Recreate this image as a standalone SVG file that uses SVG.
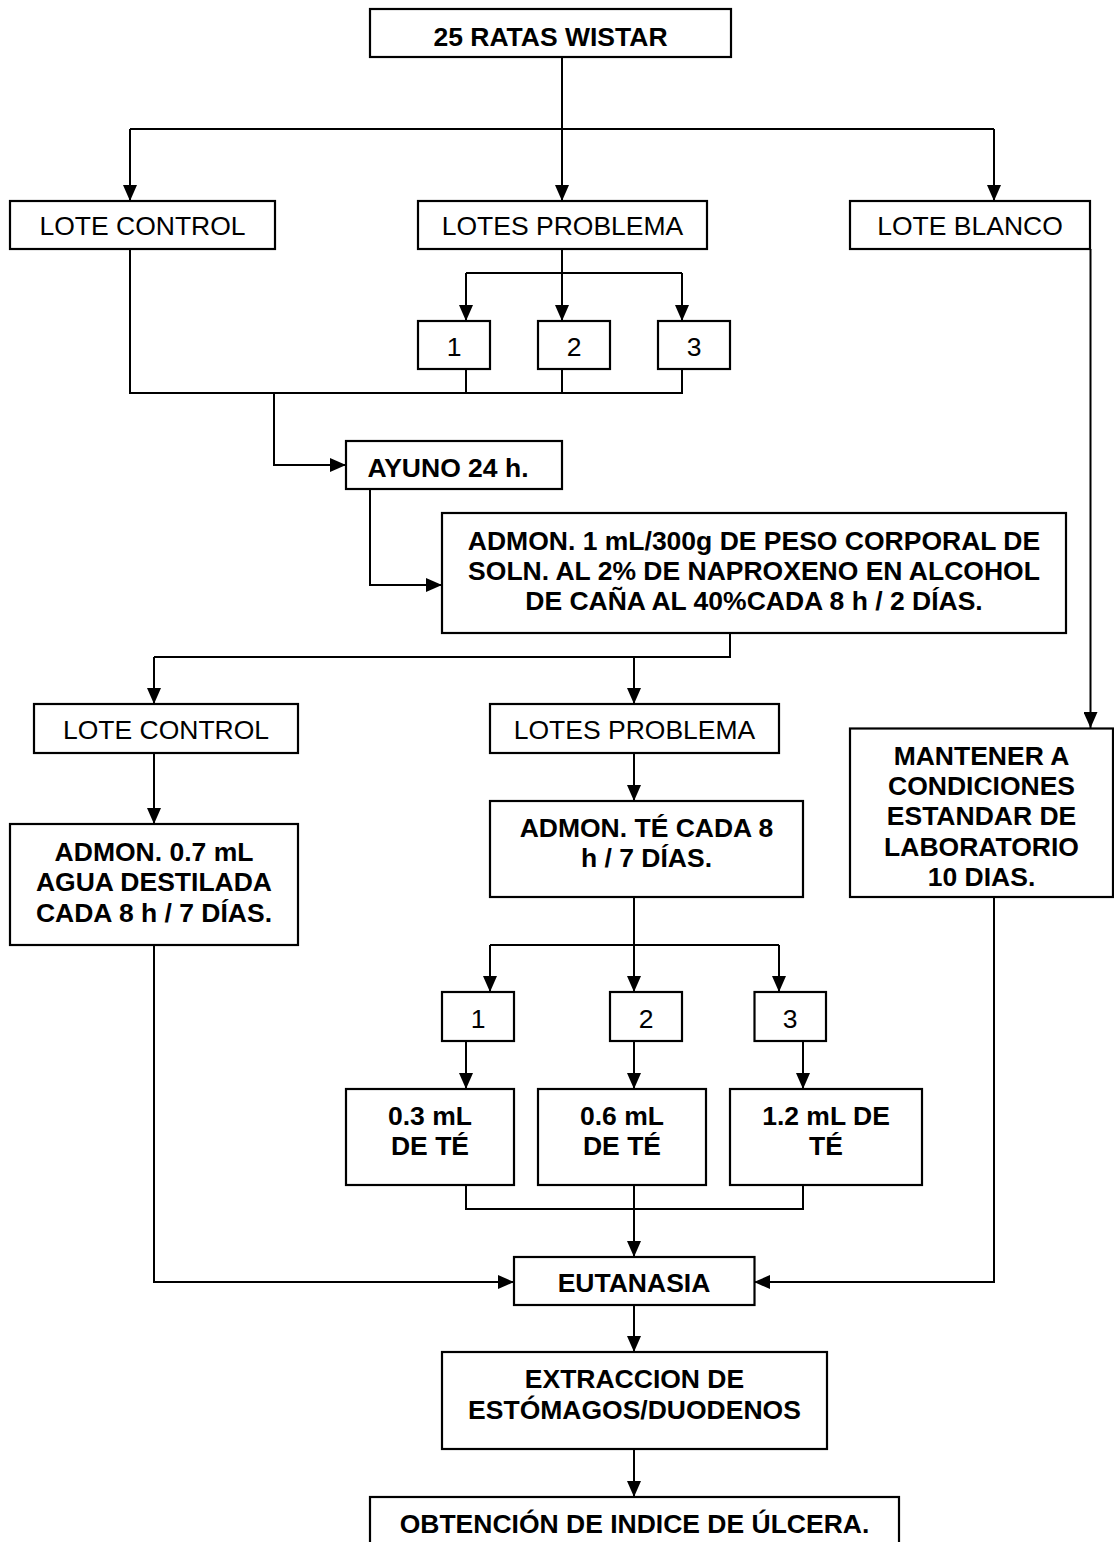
<svg xmlns="http://www.w3.org/2000/svg" width="1114" height="1542" viewBox="0 0 1114 1542">
<style>
.box{fill:#fff;stroke:#000;stroke-width:2.2}
.c{fill:none;stroke:#000;stroke-width:2}
.a{marker-end:url(#ah)}
text{font-family:"Liberation Sans",Arial,sans-serif;font-size:26.5px;fill:#000;text-anchor:middle}
.b{font-weight:bold}
</style>
<defs>
<marker id="ah" markerUnits="userSpaceOnUse" markerWidth="16" markerHeight="14" refX="16" refY="7" orient="auto">
<path d="M0,0 L16,7 L0,14 z" fill="#000"/>
</marker>
</defs>
<rect width="1114" height="1542" fill="#fff"/>
<g id="connectors">
<path class="c a" d="M562,57 V201"/>
<path class="c" d="M130,129 H994"/>
<path class="c a" d="M130,129 V201"/>
<path class="c a" d="M994,129 V201"/>
<path class="c a" d="M562,249 V321"/>
<path class="c" d="M466,273 H682"/>
<path class="c a" d="M466,273 V321"/>
<path class="c a" d="M682,273 V321"/>
<path class="c" d="M130,249 V393 H682 V369"/>
<path class="c" d="M466,369 V393"/>
<path class="c" d="M562,369 V393"/>
<path class="c a" d="M274,393 V465 H346"/>
<path class="c a" d="M370,489 V585 H442"/>
<path class="c" d="M730,633 V657 H154"/>
<path class="c a" d="M154,657 V704"/>
<path class="c a" d="M634,657 V704"/>
<path class="c a" d="M1090.5,249 V728"/>
<path class="c a" d="M154,753 V824"/>
<path class="c a" d="M634,753 V801"/>
<path class="c" d="M634,897 V945"/>
<path class="c" d="M490,945 H779"/>
<path class="c a" d="M490,945 V992"/>
<path class="c a" d="M634,945 V992"/>
<path class="c a" d="M779,945 V992"/>
<path class="c a" d="M466,1041 V1089"/>
<path class="c a" d="M634,1041 V1089"/>
<path class="c a" d="M803,1041 V1089"/>
<path class="c" d="M466,1185 V1209 H803 V1185"/>
<path class="c a" d="M634,1185 V1257"/>
<path class="c a" d="M154,945 V1282 H514"/>
<path class="c a" d="M994,897 V1282 H754"/>
<path class="c a" d="M634,1305 V1352"/>
<path class="c a" d="M634,1449 V1497"/>
</g>
<g id="n-ratas"><rect class="box" x="370" y="9" width="361" height="48"/><text class="b" x="550.5" y="46">25 RATAS WISTAR</text></g>
<g id="n-control1"><rect class="box" x="10" y="201" width="265" height="48"/><text x="142.5" y="235">LOTE CONTROL</text></g>
<g id="n-problema1"><rect class="box" x="418" y="201" width="289" height="48"/><text x="562.5" y="235">LOTES PROBLEMA</text></g>
<g id="n-blanco"><rect class="box" x="850" y="201" width="240" height="48"/><text x="970" y="235">LOTE BLANCO</text></g>
<g id="n-p1"><rect class="box" x="418" y="321" width="72" height="48"/><text x="454" y="356">1</text></g>
<g id="n-p2"><rect class="box" x="538" y="321" width="72" height="48"/><text x="574" y="356">2</text></g>
<g id="n-p3"><rect class="box" x="658" y="321" width="72" height="48"/><text x="694" y="356">3</text></g>
<g id="n-ayuno"><rect class="box" x="346" y="441" width="216" height="48"/><text class="b" x="448" y="476.5">AYUNO 24 h.</text></g>
<g id="n-naproxeno"><rect class="box" x="442" y="513" width="624" height="120"/><text class="b" x="754" y="549.5">ADMON. 1 mL/300g DE PESO CORPORAL DE</text><text class="b" x="754" y="579.5">SOLN. AL 2% DE NAPROXENO EN ALCOHOL</text><text class="b" x="754" y="610">DE CAÑA AL 40%CADA 8 h / 2 DÍAS.</text></g>
<g id="n-control2"><rect class="box" x="34" y="704" width="264" height="49"/><text x="166" y="739">LOTE CONTROL</text></g>
<g id="n-problema2"><rect class="box" x="490" y="704" width="289" height="49"/><text x="634.5" y="739">LOTES PROBLEMA</text></g>
<g id="n-mantener"><rect class="box" x="850" y="728.5" width="263" height="168.5"/><text class="b" x="981.5" y="764.5">MANTENER A</text><text class="b" x="981.5" y="795">CONDICIONES</text><text class="b" x="981.5" y="825.3">ESTANDAR DE</text><text class="b" x="981.5" y="855.7">LABORATORIO</text><text class="b" x="981.5" y="886">10 DIAS.</text></g>
<g id="n-agua"><rect class="box" x="10" y="824" width="288" height="121"/><text class="b" x="154" y="861">ADMON. 0.7 mL</text><text class="b" x="154" y="891">AGUA DESTILADA</text><text class="b" x="154" y="921.5">CADA 8 h / 7 DÍAS.</text></g>
<g id="n-te"><rect class="box" x="490" y="801" width="313" height="96"/><text class="b" x="646.5" y="836.7">ADMON. TÉ CADA 8</text><text class="b" x="646.5" y="867.3">h / 7 DÍAS.</text></g>
<g id="n-q1"><rect class="box" x="442" y="992" width="72" height="49"/><text x="478" y="1028.3">1</text></g>
<g id="n-q2"><rect class="box" x="610" y="992" width="72" height="49"/><text x="646" y="1028.3">2</text></g>
<g id="n-q3"><rect class="box" x="754.5" y="992" width="71.5" height="49"/><text x="790" y="1028.3">3</text></g>
<g id="n-d03"><rect class="box" x="346" y="1089" width="168" height="96"/><text class="b" x="430" y="1125">0.3 mL</text><text class="b" x="430" y="1155">DE TÉ</text></g>
<g id="n-d06"><rect class="box" x="538" y="1089" width="168" height="96"/><text class="b" x="622" y="1125">0.6 mL</text><text class="b" x="622" y="1155">DE TÉ</text></g>
<g id="n-d12"><rect class="box" x="730" y="1089" width="192" height="96"/><text class="b" x="826" y="1125">1.2 mL DE</text><text class="b" x="826" y="1155">TÉ</text></g>
<g id="n-eutanasia"><rect class="box" x="514" y="1257" width="240.5" height="48"/><text class="b" x="634" y="1291.5">EUTANASIA</text></g>
<g id="n-extraccion"><rect class="box" x="442" y="1352" width="385" height="97"/><text class="b" x="634.5" y="1388.3">EXTRACCION DE</text><text class="b" x="634.5" y="1419">ESTÓMAGOS/DUODENOS</text></g>
<g id="n-indice"><rect class="box" x="370" y="1497" width="529" height="80"/><text class="b" x="634.5" y="1533">OBTENCIÓN DE INDICE DE ÚLCERA.</text></g>
</svg>
